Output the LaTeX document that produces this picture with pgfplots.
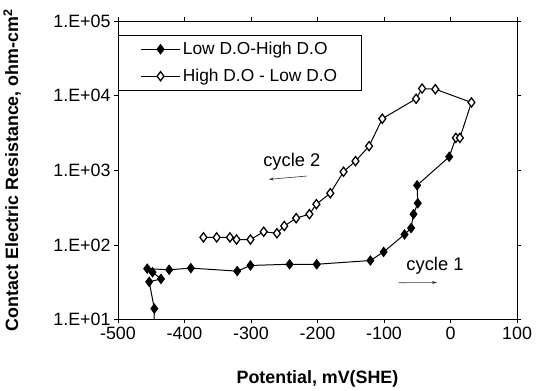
\documentclass[border=0pt]{standalone}
\usepackage{pgfplots}
\pgfplotsset{compat=1.18}
\usepackage{fontspec}
\setmainfont{Liberation Sans}
\usetikzlibrary{arrows.meta}
\begin{document}
\begin{tikzpicture}
\begin{axis}[
  scale only axis, width=401bp, height=300bp,
  xmin=-500, xmax=100, ymode=log, ymin=10, ymax=100000,
  xtick={-500,-400,-300,-200,-100,0,100},
  ytick={10,100,1000,10000,100000},
  yticklabels={1.E+01,1.E+02,1.E+03,1.E+04,1.E+05},
  yminorticks=false,
  tick align=outside, major tick length=4bp,
  tick style={black, line width=0.6pt},
  axis line style={black, line width=0.8pt},
  /pgf/number format/assume math mode=true,
  ticklabel style={font=\fontsize{18}{21}\selectfont},
  xlabel={\textbf{Potential, mV(SHE)}},
  ylabel={\textbf{Contact Electric Resistance, ohm-cm\textsuperscript{2}}},
  xlabel style={font=\fontsize{18}{21}\selectfont, at={(axis description cs:0.5,-0.213)}, anchor=base},
  ylabel style={font=\fontsize{18}{21}\selectfont, at={(axis description cs:-0.265,0.5)}, anchor=center},
  legend style={at={(0.0,0.953)}, anchor=north west, draw=black, line width=0.6pt,
    font=\fontsize{17.5}{20}\selectfont, row sep=9bp, inner xsep=22bp, inner ysep=5bp},
  legend cell align=left,
  legend image code/.code={\draw[mark repeat=2,mark phase=2,#1] plot coordinates {(0bp,0bp)(20bp,0bp)(40bp,0bp)};},
]
\addplot[black, line width=1pt, mark=diamond*, mark size=4.6bp, mark options={fill=black}]
coordinates {
(-445.3,14)(-453,32)(-435.3,35)(-448,43)(-456,48)(-423,46.4)(-390.4,48.8)(-320.7,44.5)
(-300.8,53)(-242,55)(-201.2,55)(-120.5,61.7)(-100.6,80.5)(-69.2,138)(-59.3,168)
(-55.7,258)(-49.3,361)(-50.3,628)(-2,1514)
};
\addlegendentry{Low D.O-High D.O}
\addplot[black, line width=1pt, mark=diamond*, mark size=4.6bp, mark options={fill=white, line width=1.3pt}]
coordinates {
(8,2710)(14,2710)(31.4,8090)(-22.9,12160)(-42.8,12420)(-51.8,9060)(-102.6,4900)
(-122.5,2100)(-142.9,1324)(-160.9,955)(-180.8,492)(-201.7,351)(-212.2,258)(-232.1,228)
(-250,179)(-261,143)(-280.9,150)(-300.8,118)(-321.7,118)(-331.7,126)(-351.6,126)(-371.5,126)
};
\addlegendentry{High D.O - Low D.O}
\addplot[black, line width=1pt, no marks, forget plot] coordinates {(-445.3,14)(-445.5,10)};
\addplot[black, line width=1pt, no marks, forget plot] coordinates {(-2,1514)(8,2710)};
\node[font=\fontsize{18.5}{21}\selectfont] at (axis cs:-238.6,1285) {cycle 2};
\draw[black!80, line width=0.6pt, -{Stealth[length=5bp,width=3bp]}] (axis cs:-216,836) -- (axis cs:-273,755);
\node[font=\fontsize{18.5}{21}\selectfont] at (axis cs:-23.4,53) {cycle 1};
\draw[black!80, line width=0.6pt, -{Stealth[length=5bp,width=3bp]}] (axis cs:-78.2,31.1) -- (axis cs:-20.4,31.3);
\end{axis}
\path (current axis.south west) ++(-116bp,-66bp) rectangle ++(537bp,387bp);
\end{tikzpicture}
\end{document}
